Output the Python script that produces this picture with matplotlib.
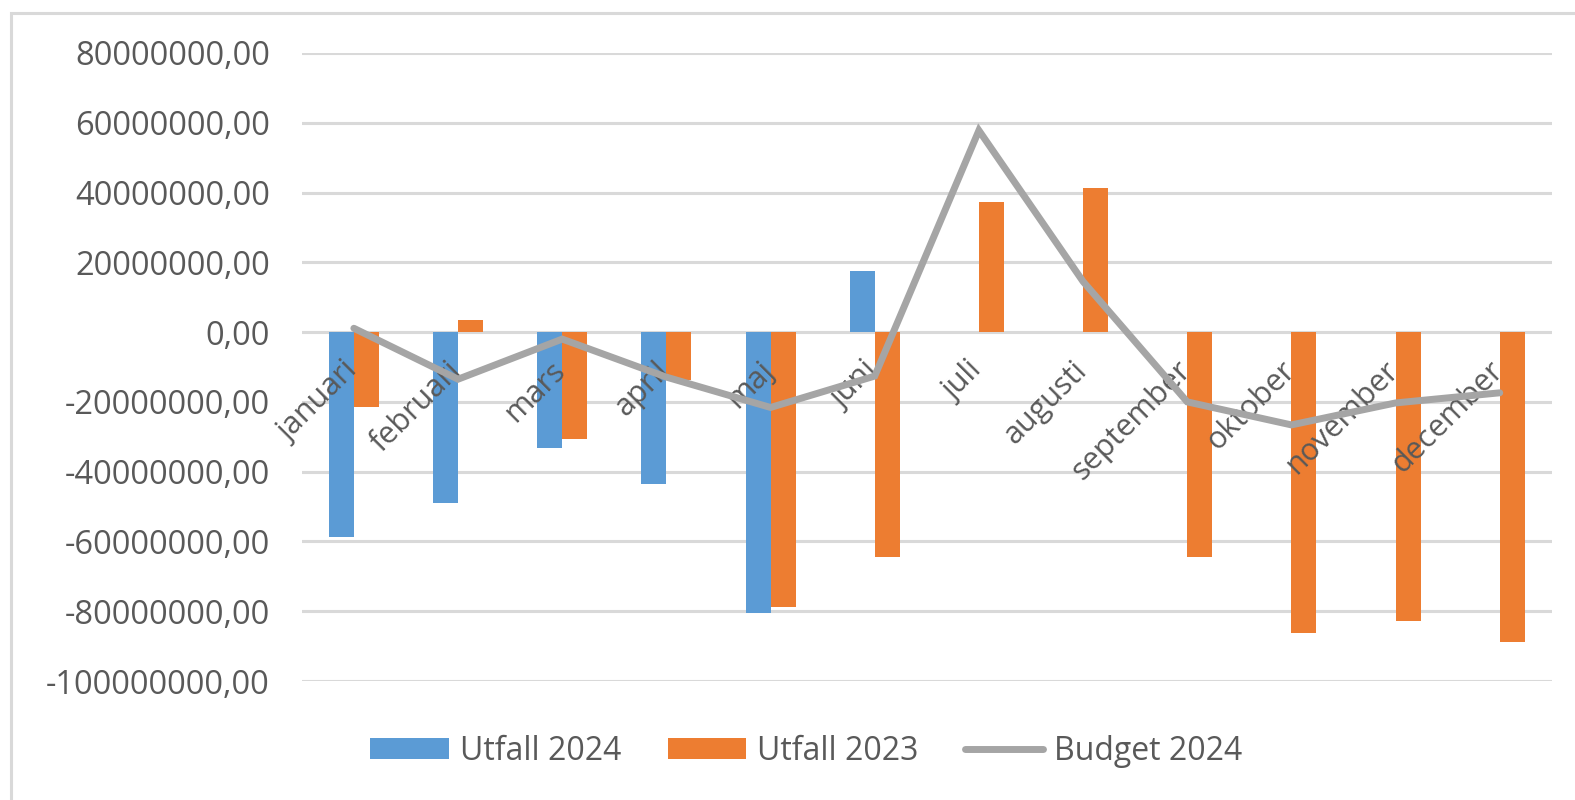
import numpy as np
import matplotlib
matplotlib.use("Agg")
import matplotlib.pyplot as plt
from matplotlib.patches import Rectangle
from matplotlib.ticker import FuncFormatter, MultipleLocator
from matplotlib.transforms import offset_copy

plt.rcParams["font.family"] = ["Open Sans", "DejaVu Sans"]

months = ["januari", "februari", "mars", "april", "maj", "juni", "juli",
          "augusti", "september", "oktober", "november", "december"]
# values in millions
utfall_2024 = [-58.6, -48.9, -33.3, -43.4, -80.4, 17.6,
               np.nan, np.nan, np.nan, np.nan, np.nan, np.nan]
utfall_2023 = [-21.6, 3.5, -30.7, -13.7, -78.8, -64.5,
               37.2, 41.3, -64.5, -86.3, -82.7, -88.8]
budget_2024 = [1.1, -13.5, -2.0, -12.9, -21.6, -12.6,
               57.8, 14.5, -20.0, -26.6, -20.3, -17.4]

BLUE = "#5B9BD5"
ORANGE = "#ED7D31"
GRAY = "#A5A5A5"
TXT = "#595959"
GRID = "#D9D9D9"

x = np.arange(len(months))
w = 0.24
scale = 1e6

fig = plt.figure(figsize=(15.75, 8), dpi=100)
ax = fig.add_axes([0.1916, 0.14875, 0.7937, 0.785])

# outer chart border (cut off on right/bottom)
fig.patches.append(Rectangle((11 / 1575, -0.05), 1.2, 1 - 13 / 800 + 0.05,
                             transform=fig.transFigure, fill=False,
                             edgecolor=GRID, linewidth=2.2, zorder=0))

b1 = ax.bar(x - w / 2, np.array(utfall_2024) * scale, width=w, color=BLUE,
            label="Utfall 2024", zorder=2)
b2 = ax.bar(x + w / 2, np.array(utfall_2023) * scale, width=w, color=ORANGE,
            label="Utfall 2023", zorder=2)
ln, = ax.plot(x, np.array(budget_2024) * scale, color=GRAY, linewidth=5,
              label="Budget 2024", zorder=4, solid_joinstyle="miter",
              solid_capstyle="round")

ax.set_xlim(-0.5, len(months) - 0.5)
ax.set_ylim(-100e6, 80e6)
ax.yaxis.set_major_locator(MultipleLocator(20e6))
ax.yaxis.set_major_formatter(FuncFormatter(lambda v, p: f"{v:.2f}".replace(".", ",")))
ax.grid(axis="y", color=GRID, linewidth=2.2, zorder=0)
ax.set_axisbelow(True)
ax.tick_params(axis="y", length=0, pad=23, labelsize=23.5, labelcolor=TXT)
ax.set_xticks([])
for s in ax.spines.values():
    s.set_visible(False)

# category labels next to the zero line
trans = offset_copy(ax.transData, fig=fig, x=-1, y=-34, units="dots")
for i, m in enumerate(months):
    ax.text(i, 0, m, rotation=45, ha="right", va="center",
            rotation_mode="anchor", fontsize=22, color=TXT,
            transform=trans, zorder=3)

fig.legend([b1, b2, ln], ["Utfall 2024", "Utfall 2023", "Budget 2024"],
           loc="center", bbox_to_anchor=(0.512, 0.061), ncol=3,
           frameon=False, fontsize=23, labelcolor=TXT,
           handlelength=2.45, handleheight=0.6, handletextpad=0.35,
           columnspacing=1.45)

fig.savefig("out.png", dpi=100, facecolor="white")
